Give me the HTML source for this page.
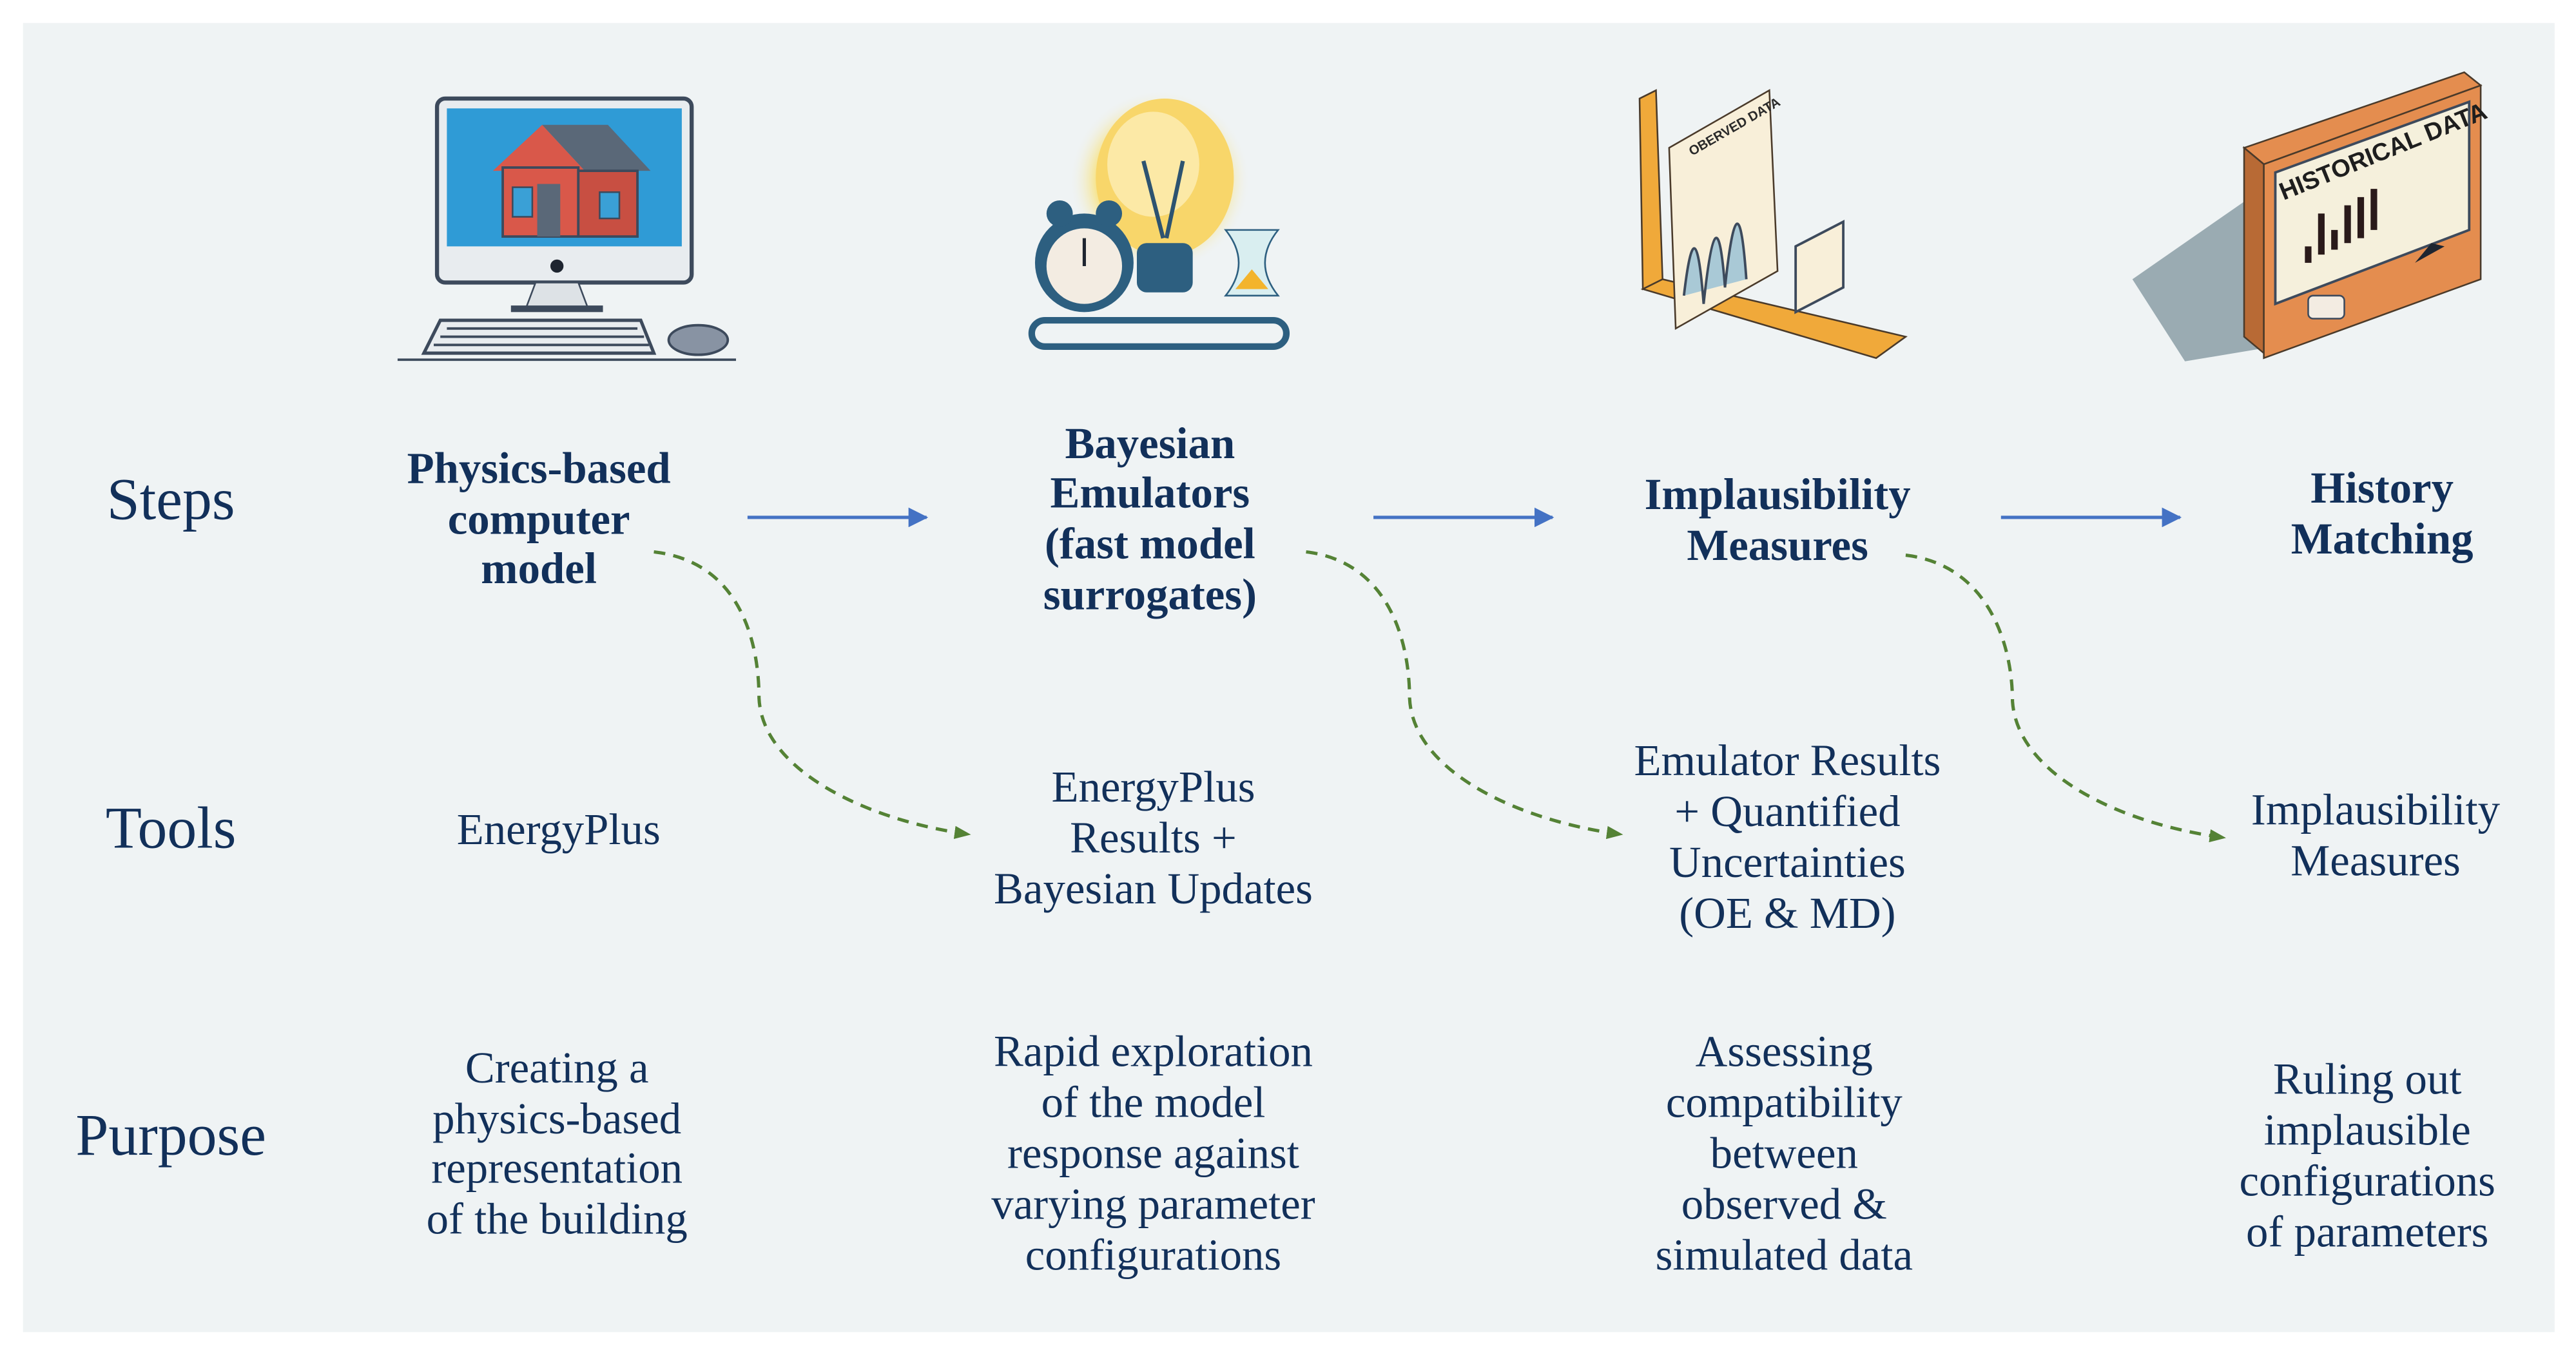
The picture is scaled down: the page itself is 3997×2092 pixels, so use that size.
<!DOCTYPE html>
<html><head><meta charset="utf-8"><style>
html,body{margin:0;padding:0;background:#fff}
svg{display:block}
text{font-family:"Liberation Serif",serif;fill:#12305a}
.b{font-weight:bold;font-size:27px}
.n{font-size:27px}
.l{font-size:36px}
</style></head><body>
<svg width="3997" height="2092" viewBox="0 0 1568 820.7" xmlns="http://www.w3.org/2000/svg">
<defs>
<marker id="ab" markerWidth="12" markerHeight="12" refX="11" refY="6" orient="auto" markerUnits="userSpaceOnUse"><path d="M0,0 L12,6 L0,12 z" fill="#4472c4"/></marker>
<marker id="ag" markerWidth="10" markerHeight="8" refX="9" refY="4" orient="auto" markerUnits="userSpaceOnUse"><path d="M0,0 L10,4 L0,8 z" fill="#548235"/></marker>
<radialGradient id="glow"><stop offset="0" stop-color="#fff7c0"/><stop offset="0.7" stop-color="#f7e48a"/><stop offset="1" stop-color="#eef2f4" stop-opacity="0"/></radialGradient>
</defs>
<rect x="14" y="14" width="1541" height="797" fill="#eff3f4"/>

<g>
<rect x="266" y="60" width="155" height="112" rx="5" fill="#e8ecef" stroke="#3d4a5c" stroke-width="2.5"/>
<rect x="272" y="66" width="143" height="84" fill="#2f9bd6"/>
<polygon points="300,104 330,76 356,104" fill="#d9584a"/>
<polygon points="330,76 370,76 396,104 356,104" fill="#5a6878"/>
<rect x="306" y="102" width="46" height="42" fill="#d9584a" stroke="#3d4a5c" stroke-width="1.5"/>
<rect x="352" y="104" width="36" height="40" fill="#c84f42" stroke="#3d4a5c" stroke-width="1.5"/>
<rect x="327" y="112" width="14" height="32" fill="#5a6878"/>
<rect x="312" y="114" width="12" height="18" fill="#3aa0d6" stroke="#3d4a5c"/>
<rect x="365" y="117" width="12" height="16" fill="#3aa0d6" stroke="#3d4a5c"/>
<circle cx="339" cy="162" r="4" fill="#1e2530"/>
<polygon points="326,172 352,172 358,188 320,188" fill="#dde2e6" stroke="#3d4a5c"/>
<rect x="311" y="186" width="56" height="4" fill="#3d4a5c"/>
<polygon points="268,195 390,195 398,215 258,215" fill="#e8ecef" stroke="#3d4a5c" stroke-width="2"/>
<path d="M272,200 H388 M268,205 H392 M264,210 H395" stroke="#3d4a5c" stroke-width="1.5"/>
<ellipse cx="425" cy="207" rx="18" ry="9" fill="#8893a3" stroke="#3d4a5c" stroke-width="1.5"/>
<line x1="242" y1="219" x2="448" y2="219" stroke="#3d4a5c" stroke-width="1.5"/>
</g>

<g>
<circle cx="706" cy="110" r="55" fill="url(#glow)"/>
<ellipse cx="709" cy="108" rx="42" ry="48" fill="#f8d66a"/>
<ellipse cx="702" cy="100" rx="28" ry="32" fill="#fce9a6"/>
<path d="M696,98 L708,145 M720,98 L710,145" stroke="#2d5370" stroke-width="2.5" fill="none"/>
<rect x="692" y="148" width="34" height="30" rx="6" fill="#2d5f80"/>
<circle cx="660" cy="160" r="30" fill="#2d5f80"/>
<circle cx="660" cy="162" r="23" fill="#f3ece2"/>
<line x1="660" y1="162" x2="660" y2="145" stroke="#1e2530" stroke-width="2"/>
<circle cx="645" cy="130" r="8" fill="#2d5f80"/><circle cx="675" cy="130" r="8" fill="#2d5f80"/>
<path d="M746,140 Q762,160 746,180 L778,180 Q762,160 778,140 z" fill="#d9eef0" stroke="#2d5f80"/>
<path d="M752,176 L772,176 L762,164 z" fill="#f3b42c"/>
<rect x="628" y="195" width="155" height="16" rx="8" fill="none" stroke="#2d5f80" stroke-width="4"/>
</g>

<g>
<polygon points="998,60 1008,55 1012,170 1000,176" fill="#f0a93a" stroke="#4a3a2a"/>
<polygon points="1000,176 1012,170 1160,205 1142,218" fill="#f0a93a" stroke="#4a3a2a"/>
<polygon points="1016,90 1077,55 1082,165 1020,200" fill="#f8efd9" stroke="#4a3a2a"/>
<path d="M1025,180 Q1032,120 1037,185 Q1045,110 1050,175 Q1058,100 1063,170" stroke="#3d4a5c" fill="#a9c9d6" stroke-width="1.5"/>
<text x="1030" y="95" transform="rotate(-30 1030 95)" style="font-size:8px;font-family:'Liberation Sans',sans-serif;font-weight:bold;fill:#2a2a2a">OBERVED DATA</text>
<polygon points="1093,150 1122,135 1122,175 1093,190" fill="#f8efd9" stroke="#3d4a5c" stroke-width="1.5"/>
</g>

<g>
<polygon points="1298,170 1370,120 1390,210 1330,220" fill="#9aabb2"/>
<polygon points="1366,90 1500,44 1510,52 1378,100" fill="#e48d4f" stroke="#4a3a2a"/>
<polygon points="1366,90 1378,100 1378,215 1366,205" fill="#b86a35" stroke="#4a3a2a"/>
<polygon points="1378,100 1510,52 1510,170 1378,218" fill="#e48d4f" stroke="#4a3a2a"/>
<polygon points="1385,105 1503,62 1503,140 1385,185" fill="#f5f0dc" stroke="#3d4a5c" stroke-width="1.5"/>
<text x="1390" y="122" transform="rotate(-22 1390 122)" style="font-size:15px;font-family:'Liberation Sans',sans-serif;font-weight:bold;fill:#1e1e1e">HISTORICAL DATA</text>
<path d="M1405,160 V150 M1413,155 V130 M1421,152 V140 M1429,148 V125 M1437,145 V120 M1445,140 V115" stroke="#2a1a1a" stroke-width="4"/>
<path d="M1470,160 L1488,150 L1480,148 z" fill="#1e2530"/>
<rect x="1405" y="180" width="22" height="14" rx="3" fill="#f3ece2" stroke="#3d4a5c"/>
</g>

<text class="l" x="104" y="316" text-anchor="middle">Steps</text>
<text class="l" x="104" y="516" text-anchor="middle">Tools</text>
<text class="l" x="104" y="703" text-anchor="middle">Purpose</text>

<g text-anchor="middle">
<text class="b" x="328" y="294">Physics-based</text>
<text class="b" x="328" y="325">computer</text>
<text class="b" x="328" y="355">model</text>
<text class="b" x="700" y="279">Bayesian</text>
<text class="b" x="700" y="309">Emulators</text>
<text class="b" x="700" y="340">(fast model</text>
<text class="b" x="700" y="371">surrogates)</text>
<text class="b" x="1082" y="310">Implausibility</text>
<text class="b" x="1082" y="341">Measures</text>
<text class="b" x="1450" y="306">History</text>
<text class="b" x="1450" y="337">Matching</text>
</g>

<g text-anchor="middle">
<text class="n" x="340" y="514">EnergyPlus</text>
<text class="n" x="702" y="488">EnergyPlus</text>
<text class="n" x="702" y="519">Results +</text>
<text class="n" x="702" y="550">Bayesian Updates</text>
<text class="n" x="1088" y="472">Emulator Results</text>
<text class="n" x="1088" y="503">+ Quantified</text>
<text class="n" x="1088" y="534">Uncertainties</text>
<text class="n" x="1088" y="565">(OE &amp; MD)</text>
<text class="n" x="1446" y="502">Implausibility</text>
<text class="n" x="1446" y="533">Measures</text>
</g>

<g text-anchor="middle">
<text class="n" x="339" y="659">Creating a</text>
<text class="n" x="339" y="690">physics-based</text>
<text class="n" x="339" y="720">representation</text>
<text class="n" x="339" y="751">of the building</text>
<text class="n" x="702" y="649">Rapid exploration</text>
<text class="n" x="702" y="680">of the model</text>
<text class="n" x="702" y="711">response against</text>
<text class="n" x="702" y="742">varying parameter</text>
<text class="n" x="702" y="773">configurations</text>
<text class="n" x="1086" y="649">Assessing</text>
<text class="n" x="1086" y="680">compatibility</text>
<text class="n" x="1086" y="711">between</text>
<text class="n" x="1086" y="742">observed &amp;</text>
<text class="n" x="1086" y="773">simulated data</text>
<text class="n" x="1441" y="666">Ruling out</text>
<text class="n" x="1441" y="697">implausible</text>
<text class="n" x="1441" y="728">configurations</text>
<text class="n" x="1441" y="759">of parameters</text>
</g>

<g stroke="#4472c4" stroke-width="2" marker-end="url(#ab)">
<line x1="455" y1="315" x2="564" y2="315"/>
<line x1="836" y1="315" x2="945" y2="315"/>
<line x1="1218" y1="315" x2="1327" y2="315"/>
</g>

<g stroke="#548235" stroke-width="2" fill="none" stroke-dasharray="7,5" marker-end="url(#ag)">
<path d="M398,336 C450,342 462,390 462,425 C464,470 530,500 590,508"/>
<path d="M795,336 C845,342 858,390 858,425 C860,470 925,500 987,508"/>
<path d="M1160,338 C1210,344 1225,392 1225,427 C1228,472 1292,502 1354,510"/>
</g>
</svg>
</body></html>
